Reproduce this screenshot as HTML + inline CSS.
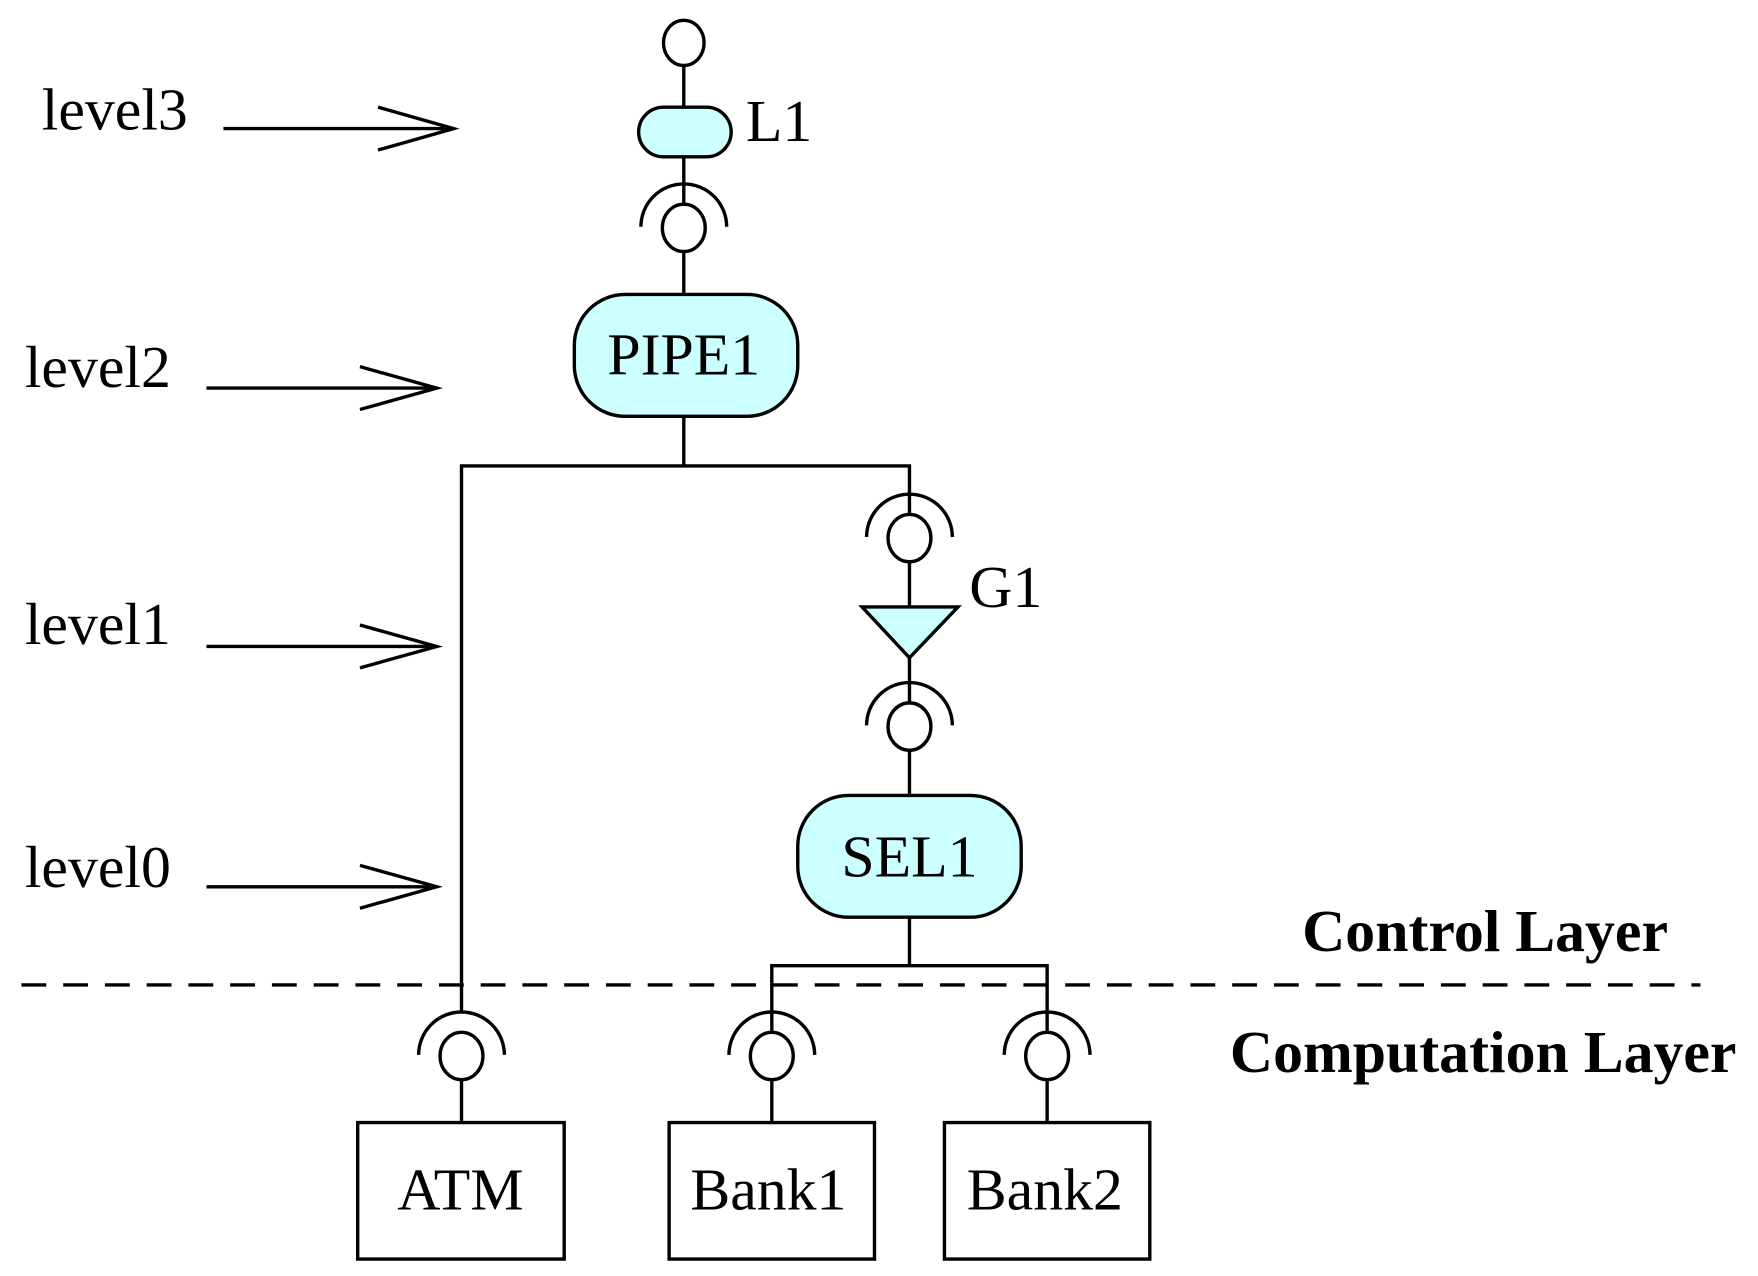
<!DOCTYPE html>
<html><head><style>body{margin:0;background:#fff}svg{display:block}</style></head><body>
<svg width="1758" height="1276" viewBox="0 0 1558 1131" preserveAspectRatio="none" xmlns="http://www.w3.org/2000/svg">
<g transform="translate(-3,-2)">
<g stroke="#000" stroke-width="3" fill="none">
<ellipse cx="609" cy="40" rx="18" ry="20" fill="#fff"/>
<line x1="609" y1="60" x2="609" y2="97"/>
<rect x="569" y="97" width="82" height="44" rx="22" fill="#ccffff"/>
<line x1="609" y1="141" x2="609" y2="183"/>
<line x1="609" y1="221" x2="609" y2="263"/>
<rect x="512" y="263" width="198" height="108" rx="45" fill="#ccffff"/>
<line x1="609" y1="371" x2="609" y2="415"/>
<polyline points="412,900 412,415 809,415 809,458"/>
<line x1="809" y1="498" x2="809" y2="540"/>
<polygon points="767,540 852,540 809,585" fill="#ccffff"/>
<line x1="809" y1="585" x2="809" y2="625"/>
<line x1="809" y1="665" x2="809" y2="707"/>
<rect x="710" y="707" width="198" height="108" rx="45" fill="#ccffff"/>
<polyline points="687,917 687,858 931,858 931,917"/>
<line x1="809" y1="815" x2="809" y2="858"/>
<line x1="22" y1="875" x2="1510" y2="875" stroke-dasharray="22,15"/>
<line x1="412" y1="957" x2="412" y2="997"/>
<line x1="687" y1="957" x2="687" y2="997"/>
<line x1="931" y1="957" x2="931" y2="997"/>
<rect x="320" y="997" width="183" height="121"/>
<rect x="596" y="997" width="182" height="121"/>
<rect x="840" y="997" width="182" height="121"/>
<g id="s">
<path d="M571,203 A38,38 0 0 1 647,203"/><ellipse cx="609" cy="204" rx="19" ry="21" fill="#fff"/>
</g>
<use href="#s" transform="translate(200,275)"/>
<use href="#s" transform="translate(200,442)"/>
<use href="#s" transform="translate(-197,734)"/>
<use href="#s" transform="translate(78,734)"/>
<use href="#s" transform="translate(322,734)"/>
<line x1="201" y1="116" x2="405" y2="116"/><polyline points="338,97 405,116 338,135"/>
<line x1="186" y1="346" x2="390" y2="346"/><polyline points="322,327 390,346 322,365"/>
<line x1="186" y1="575" x2="390" y2="575"/><polyline points="322,556 390,575 322,594"/>
<line x1="186" y1="788" x2="390" y2="788"/><polyline points="322,769 390,788 322,807"/>
</g>
<g font-family="Liberation Serif, serif" font-size="53" fill="#000">
<text x="40" y="117">level3</text>
<text x="25" y="345">level2</text>
<text x="25" y="573">level1</text>
<text x="25" y="788">level0</text>
<text x="664" y="127">L1</text>
<text x="862" y="540">G1</text>
<text x="609" y="334" text-anchor="middle">PIPE1</text>
<text x="809" y="779" text-anchor="middle">SEL1</text>
<text x="411" y="1074" text-anchor="middle">ATM</text>
<text x="684" y="1074" text-anchor="middle">Bank1</text>
<text x="929" y="1074" text-anchor="middle">Bank2</text>
<text x="1157" y="845" font-weight="bold">Control Layer</text>
<text x="1093" y="952" font-weight="bold">Computation Layer</text>
</g>
</g>
</svg>
</body></html>
